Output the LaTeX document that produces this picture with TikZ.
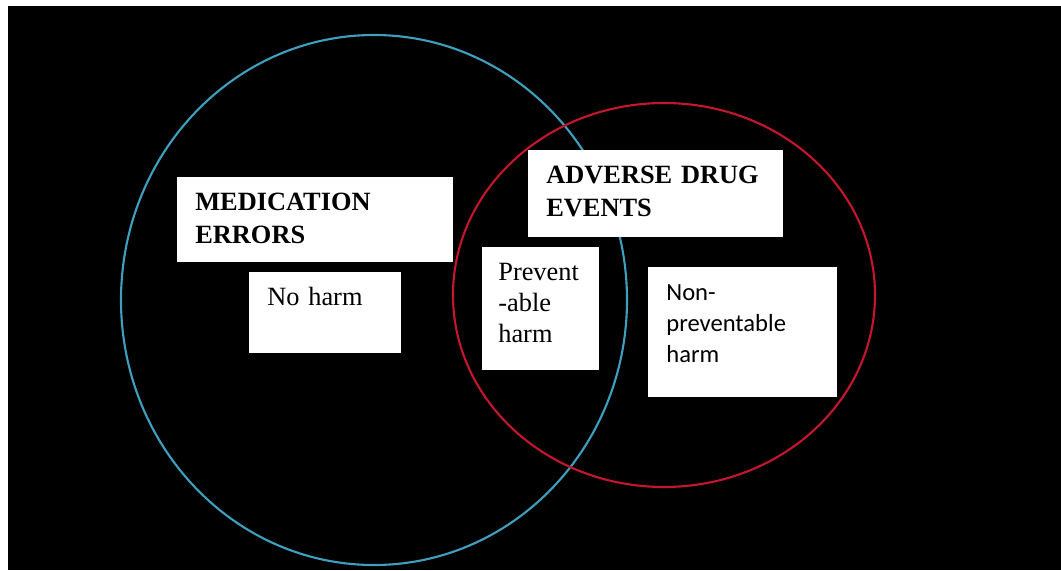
\documentclass[tikz,border=0pt]{standalone}
\usepackage{fontspec}
\setmainfont{Liberation Serif}
\newfontfamily\calfont{Carlito}
\definecolor{mecyan}{RGB}{62,160,190}
\definecolor{adered}{RGB}{196,22,44}

\begin{document}
\begin{tikzpicture}[
      ring/.style={line width=1.2pt},
      box/.style={fill=white, anchor=north west, align=left, inner xsep=0.36cm, inner ysep=0pt, text height=18.8pt},
      head/.style={font=\fontsize{15}{18.8}\selectfont\bfseries},
      body/.style={font=\fontsize{15}{17.6}\selectfont},
      sans/.style={font=\fontsize{14}{17.6}\selectfont\calfont}]
  \useasboundingbox (0,0) rectangle (21.22,-11.4);
  \fill[black] (0.16,-0.12) rectangle (21.22,-11.4);
  % the two sets
  \draw[ring, mecyan] (7.48,-6.0) ellipse [x radius=5.06, y radius=5.30];
  \draw[ring, adered] (13.28,-5.9) ellipse [x radius=4.22, y radius=3.84];
  % labels
  \node[box, head, text width=4.80cm, text depth=29.57pt] (me) at (3.54,-3.54) {MEDICATION\\ERRORS};
  \node[box, body, text width=2.32cm, text depth=27.29pt] (noharm) at (4.98,-5.44) {No harm};
  \node[box, head, text width=4.38cm, text depth=30.71pt] (ade) at (10.56,-3.0) {ADVERSE DRUG\\EVENTS};
  \node[box, body, text width=1.70cm, inner xsep=0.32cm, text depth=51.19pt] (prev) at (9.64,-4.94) {Prevent\\-able\\harm};
  \node[box, sans, text width=3.06cm, text depth=55.18pt] (nonprev) at (12.96,-5.34) {Non-\\preventable\\harm};
\end{tikzpicture}
\end{document}
